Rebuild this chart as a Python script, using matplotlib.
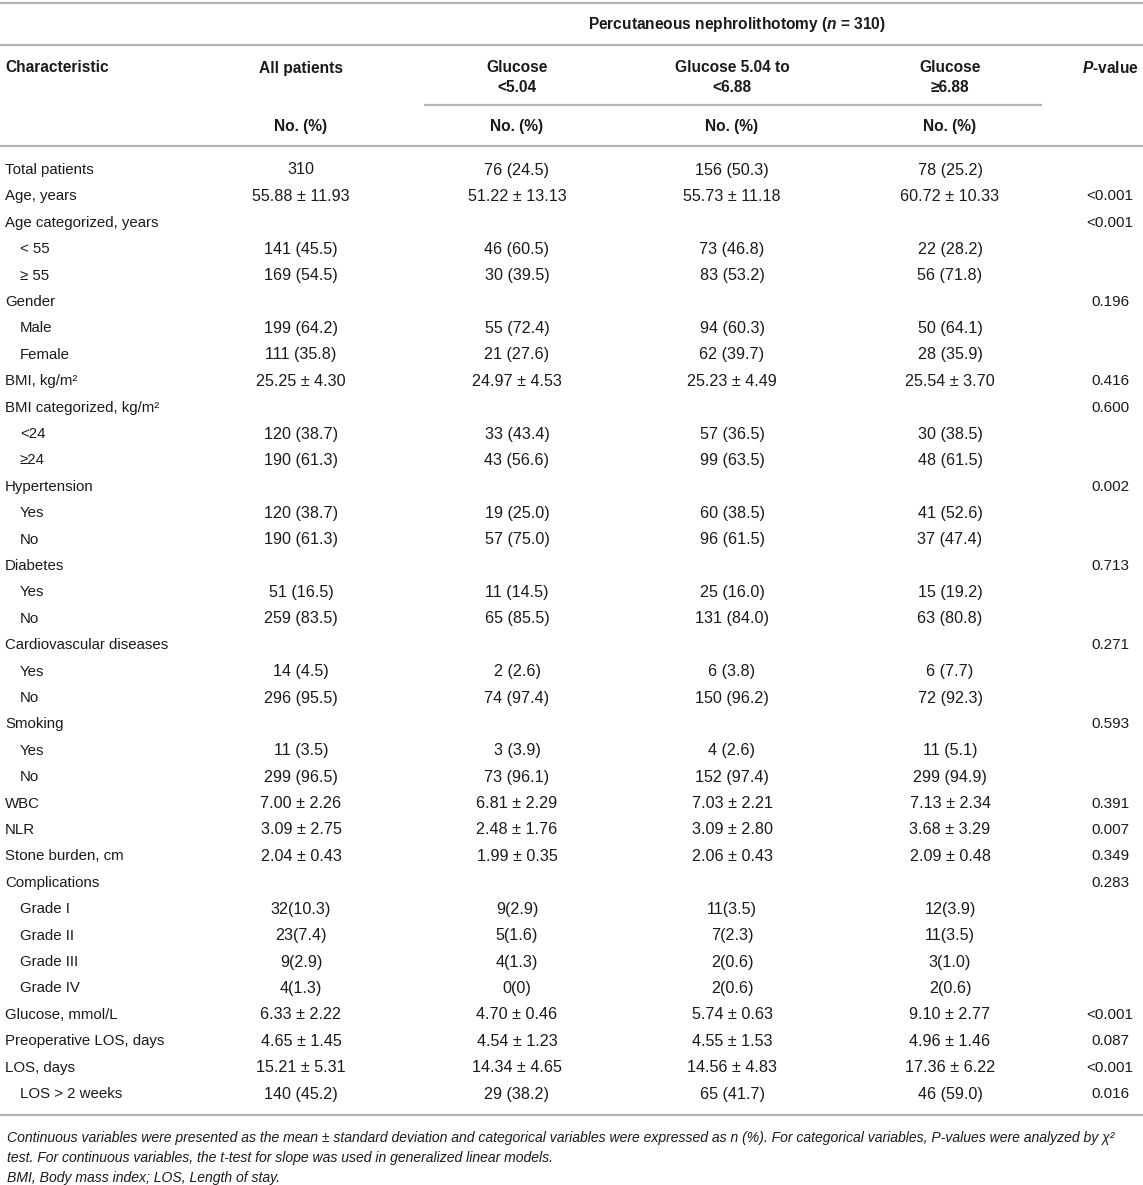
import matplotlib
matplotlib.use("Agg")
import matplotlib.pyplot as plt

plt.rcParams['font.family'] = ['Liberation Sans', 'DejaVu Sans']
plt.rcParams['mathtext.fontset'] = 'custom'
plt.rcParams['mathtext.rm'] = 'Liberation Sans'
plt.rcParams['mathtext.it'] = 'Liberation Sans:italic'
plt.rcParams['mathtext.bf'] = 'Liberation Sans:bold'
plt.rcParams['mathtext.bfit'] = 'Liberation Sans:bold:italic'

# ---------------- data ----------------
characteristics = [
    "Total patients", "Age, years", "Age categorized, years", "< 55", "≥ 55",
    "Gender", "Male", "Female", "BMI, kg/m²", "BMI categorized, kg/m²", "<24", "≥24",
    "Hypertension", "Yes", "No", "Diabetes", "Yes", "No",
    "Cardiovascular diseases", "Yes", "No", "Smoking", "Yes", "No",
    "WBC", "NLR", "Stone burden, cm", "Complications",
    "Grade I", "Grade II", "Grade III", "Grade IV",
    "Glucose, mmol/L", "Preoperative LOS, days", "LOS, days", "LOS > 2 weeks",
]
indented = [
    0, 0, 0, 1, 1,
    0, 1, 1, 0, 0, 1, 1,
    0, 1, 1, 0, 1, 1,
    0, 1, 1, 0, 1, 1,
    0, 0, 0, 0,
    1, 1, 1, 1,
    0, 0, 0, 1,
]
all_patients = [
    "310", "55.88 ± 11.93", "", "141 (45.5)", "169 (54.5)",
    "", "199 (64.2)", "111 (35.8)", "25.25 ± 4.30", "", "120 (38.7)", "190 (61.3)",
    "", "120 (38.7)", "190 (61.3)", "", "51 (16.5)", "259 (83.5)",
    "", "14 (4.5)", "296 (95.5)", "", "11 (3.5)", "299 (96.5)",
    "7.00 ± 2.26", "3.09 ± 2.75", "2.04 ± 0.43", "",
    "32(10.3)", "23(7.4)", "9(2.9)", "4(1.3)",
    "6.33 ± 2.22", "4.65 ± 1.45", "15.21 ± 5.31", "140 (45.2)",
]
glucose_low = [
    "76 (24.5)", "51.22 ± 13.13", "", "46 (60.5)", "30 (39.5)",
    "", "55 (72.4)", "21 (27.6)", "24.97 ± 4.53", "", "33 (43.4)", "43 (56.6)",
    "", "19 (25.0)", "57 (75.0)", "", "11 (14.5)", "65 (85.5)",
    "", "2 (2.6)", "74 (97.4)", "", "3 (3.9)", "73 (96.1)",
    "6.81 ± 2.29", "2.48 ± 1.76", "1.99 ± 0.35", "",
    "9(2.9)", "5(1.6)", "4(1.3)", "0(0)",
    "4.70 ± 0.46", "4.54 ± 1.23", "14.34 ± 4.65", "29 (38.2)",
]
glucose_mid = [
    "156 (50.3)", "55.73 ± 11.18", "", "73 (46.8)", "83 (53.2)",
    "", "94 (60.3)", "62 (39.7)", "25.23 ± 4.49", "", "57 (36.5)", "99 (63.5)",
    "", "60 (38.5)", "96 (61.5)", "", "25 (16.0)", "131 (84.0)",
    "", "6 (3.8)", "150 (96.2)", "", "4 (2.6)", "152 (97.4)",
    "7.03 ± 2.21", "3.09 ± 2.80", "2.06 ± 0.43", "",
    "11(3.5)", "7(2.3)", "2(0.6)", "2(0.6)",
    "5.74 ± 0.63", "4.55 ± 1.53", "14.56 ± 4.83", "65 (41.7)",
]
glucose_high = [
    "78 (25.2)", "60.72 ± 10.33", "", "22 (28.2)", "56 (71.8)",
    "", "50 (64.1)", "28 (35.9)", "25.54 ± 3.70", "", "30 (38.5)", "48 (61.5)",
    "", "41 (52.6)", "37 (47.4)", "", "15 (19.2)", "63 (80.8)",
    "", "6 (7.7)", "72 (92.3)", "", "11 (5.1)", "299 (94.9)",
    "7.13 ± 2.34", "3.68 ± 3.29", "2.09 ± 0.48", "",
    "12(3.9)", "11(3.5)", "3(1.0)", "2(0.6)",
    "9.10 ± 2.77", "4.96 ± 1.46", "17.36 ± 6.22", "46 (59.0)",
]
p_values = [
    "", "<0.001", "<0.001", "", "",
    "0.196", "", "", "0.416", "0.600", "", "",
    "0.002", "", "", "0.713", "", "",
    "0.271", "", "", "0.593", "", "",
    "0.391", "0.007", "0.349", "0.283",
    "", "", "", "",
    "<0.001", "0.087", "<0.001", "0.016",
]
group_header = r"Percutaneous nephrolithotomy ($\mathbfit{n}$ = 310)"
col_headers = ["All patients", "Glucose\n<5.04", "Glucose 5.04 to\n<6.88", "Glucose\n≥6.88"]
sub_header = "No. (%)"
footnotes = [
    "Continuous variables were presented as the mean ± standard deviation and categorical variables were expressed as n (%). For categorical variables, P-values were analyzed by χ²",
    "test. For continuous variables, the t-test for slope was used in generalized linear models.",
    "BMI, Body mass index; LOS, Length of stay.",
]

# ---------------- layout ----------------
W, H = 1143, 1185
fig = plt.figure(figsize=(W / 100, H / 100), dpi=100)
ax = fig.add_axes([0, 0, 1, 1])
ax.set_xlim(0, W)
ax.set_ylim(H, 0)
ax.axis('off')

txt_color = '#1a1a1a'
line_color = '#b4b4b4'
fs_head = 11.2
fs_label = 10.8
fs_val = 11.6
fs_p = 11.0

col_x = [301, 517, 732, 950]
p_x = 1110
label_x = 5
indent_x = 20

row0 = 170
row_h = 26.4

# horizontal rules
def hline(y, x0, x1):
    ax.plot([x0, x1], [y, y], color=line_color, lw=1.6, solid_capstyle='butt')

hline(3, 0, W)
hline(45, 0, W)
hline(105, 424, 1042)
hline(146, 0, W)
hline(1115, 0, W)

# headers
ax.text(737, 24, group_header, ha='center', va='center', fontsize=fs_head,
        fontweight='bold', color=txt_color)
ax.text(label_x, 68, "Characteristic", ha='left', va='center', fontsize=fs_head,
        fontweight='bold', color=txt_color)
for x, h in zip(col_x, col_headers):
    lines = h.split("\n")
    for k, ln in enumerate(lines):
        ax.text(x, 68 + 20 * k, ln, ha='center', va='center', fontsize=fs_head,
                fontweight='bold', color=txt_color)
    ax.text(x, 127, sub_header, ha='center', va='center', fontsize=fs_head,
            fontweight='bold', color=txt_color)
ax.text(p_x, 68, r"$\mathbfit{P}$-value", ha='center', va='center', fontsize=fs_head,
        fontweight='bold', color=txt_color)

# body
for i, lab in enumerate(characteristics):
    y = row0 + i * row_h
    ax.text(indent_x if indented[i] else label_x, y, lab, ha='left', va='center',
            fontsize=fs_label, color=txt_color)
    for x, col in zip(col_x, [all_patients, glucose_low, glucose_mid, glucose_high]):
        if col[i]:
            ax.text(x, y, col[i], ha='center', va='center', fontsize=fs_val, color=txt_color)
    if p_values[i]:
        ax.text(p_x, y, p_values[i], ha='center', va='center', fontsize=fs_p, color=txt_color)

# footnotes
for k, fn in enumerate(footnotes):
    ax.text(label_x + 2, 1138 + 20 * k, fn, ha='left', va='center', fontsize=10.1,
            fontstyle='italic', color=txt_color)

fig.savefig("out.png", dpi=100)
